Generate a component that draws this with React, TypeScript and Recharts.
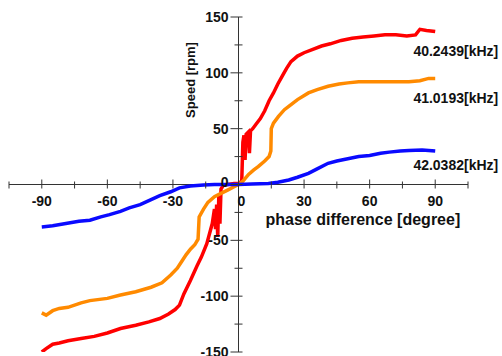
import React from 'react';
import { LineChart, Line, XAxis, YAxis, ReferenceLine, ReferenceDot } from 'recharts';

// phase difference [degree] / speed [rpm] pairs
const redPhase = [-90, -88, -85, -82, -78, -72, -66, -60, -54, -47, -41, -36, -32, -29, -27, -25, -22, -19, -17, -14.5, -12, -11, -10.5, -10, -9.5, -9, -8.5, -8, -7, -5, -2, 0, 1, 1.5, 2, 2.5, 3, 3.5, 4.5, 5, 5.5, 6.5, 8, 10, 12, 14, 16, 18, 20, 22, 24, 27, 30, 34, 38, 42, 47, 52, 57, 62, 67, 72, 77, 81, 83, 86, 90];
const redSpeed = [-150, -147, -143, -142, -140, -138, -136, -133, -129, -126, -123, -120, -116, -112, -108, -98, -86, -73, -65, -53, -35, -22, -40, -18, -47, -10, -35, -4, -1, 0, 1, 1, 2, 4, 38, 44, 22, 45, 47, 28, 48, 50, 54, 59, 66, 75, 82, 90, 97, 104, 110, 115, 118, 121, 124, 126, 129, 131, 132, 133, 134, 134, 133, 134, 139, 138, 137];

const orangePhase = [-90, -88, -85, -82, -78, -72, -68, -60, -54, -47, -40, -35, -31, -28, -26, -24, -22, -20, -18.5, -18, -16, -14, -11, -8, -5, -2, 0, 2, 4.6, 7, 9, 12, 14, 14.8, 15, 16, 18.3, 21, 23, 27, 32, 36, 41, 46, 50, 55, 60, 66, 72, 78, 83, 87, 90];
const orangeSpeed = [-115, -117, -113, -111, -110, -106, -104, -102, -99, -96, -92, -88, -81, -75, -69, -63, -58, -54, -49, -29, -22, -16, -11, -8, -5, -2, 0, 3, 9, 13, 16, 21, 25, 30, 50, 55, 61, 67, 70, 76, 82, 85, 88, 90, 91, 92, 92, 92, 92, 92, 93, 95, 95];

const bluePhase = [-90, -85, -79, -73, -68, -63, -59, -54, -50, -45, -40.5, -36, -31, -27, -22, -16, -11, -5, 0, 6, 13.7, 18, 23, 27, 32, 36, 41, 45, 50, 55, 60, 65, 69, 74, 78, 84, 90];
const blueSpeed = [-38, -37, -35, -33, -32, -29, -27, -24, -21, -18, -14, -10, -6.5, -3, -1.3, -0.5, 0, 0, 0, 0.5, 1, 2, 4, 6.5, 10, 14, 19, 21, 23, 25, 26, 28, 29, 30, 30.5, 31, 30];

const seriesNames = ['40.2439[kHz]', '41.0193[kHz]', '42.0382[kHz]'];

const xMajorTicks = [-90, -60, -30, 0, 30, 60, 90];
const xMinorTicks = [-105, -75, -45, -15, 15, 45, 75, 105];
const yMajorTicks = [150, 100, 50, 0, -50, -100, -150];
const yMinorTicks = [125, 75, 25, -25, -75, -125];

const toRows = (xs: number[], ys: number[]) => xs.map((x, i) => ({ x, y: ys[i] }));

const font = "'Liberation Sans', Arial, sans-serif";
const ink = '#111';

const series = [
  { name: seriesNames[0], data: toRows(redPhase, redSpeed), color: '#ff0000', dy: 19 },
  { name: seriesNames[1], data: toRows(orangePhase, orangeSpeed), color: '#ff8a00', dy: 20 },
  { name: seriesNames[2], data: toRows(bluePhase, blueSpeed), color: '#0a0aff', dy: 14 },
];

const xTick = (v: number, major: boolean) => (p: any) => (
  <g>
    <line x1={p.cx} x2={p.cx} y1={p.cy - (major ? 5 : 3)} y2={p.cy + 4} stroke="#333" strokeWidth={1} />
    {major && (
      <text x={v === 0 ? p.cx + 3 : p.cx} y={p.cy + 21} textAnchor="middle" fontSize={14} fontWeight="bold" fontFamily={font} fill={ink}>
        {v}
      </text>
    )}
  </g>
);

const yTick = (v: number, major: boolean) => (p: any) => (
  <g>
    <line x1={p.cx - (major ? 8 : 4)} x2={p.cx + 4} y1={p.cy} y2={p.cy} stroke="#333" strokeWidth={1} />
    {major && (
      <text x={p.cx - 10} y={v === 0 ? p.cy - 3 : p.cy} textAnchor="end" dominantBaseline="central" fontSize={14} fontWeight="bold" fontFamily={font} fill={ink}>
        {v}
      </text>
    )}
  </g>
);

const endLabel = (name: string, last: number, dy: number) => (p: any) => {
  if (p.index !== last) return null;
  return (
    <text x={p.x + 63} y={p.y + dy} textAnchor="end" dominantBaseline="central" fontSize={14} fontWeight="bold" fontFamily={font} fill={ink}>
      {name}
    </text>
  );
};

const App = () => {
  return (
    <div style={{ position: 'absolute', left: 0, top: 0, width: 502, height: 356, background: '#fff' }}>
      <LineChart width={502} height={356} margin={{ top: 17, right: 34, bottom: 4, left: 9 }}>
        <XAxis type="number" dataKey="x" domain={[-105, 105]} hide allowDataOverflow />
        <YAxis type="number" dataKey="y" domain={[-150, 150]} hide allowDataOverflow />
        <ReferenceLine
          y={0}
          stroke="#333"
          strokeWidth={1}
          label={(p: any) => (
            <text x={p.viewBox.x + p.viewBox.width / 2 + 27} y={p.viewBox.y + 40} fontSize={16} fontWeight="bold" fontFamily={font} fill={ink}>
              phase difference [degree]
            </text>
          )}
        />
        <ReferenceLine
          x={0}
          stroke="#333"
          strokeWidth={1}
          label={(p: any) => (
            <text
              x={p.viewBox.x - 48}
              y={p.viewBox.y + 63}
              transform={`rotate(-90 ${p.viewBox.x - 48} ${p.viewBox.y + 63})`}
              textAnchor="middle"
              dominantBaseline="central"
              fontSize={13}
              fontWeight="bold"
              fontFamily={font}
              fill={ink}
            >
              Speed [rpm]
            </text>
          )}
        />
        {xMajorTicks.map((v) => (
          <ReferenceDot key={'xM' + v} x={v} y={0} r={0} shape={xTick(v, true)} />
        ))}
        {xMinorTicks.map((v) => (
          <ReferenceDot key={'xm' + v} x={v} y={0} r={0} shape={xTick(v, false)} />
        ))}
        {yMajorTicks.map((v) => (
          <ReferenceDot key={'yM' + v} x={0} y={v} r={0} shape={yTick(v, true)} />
        ))}
        {yMinorTicks.map((v) => (
          <ReferenceDot key={'ym' + v} x={0} y={v} r={0} shape={yTick(v, false)} />
        ))}
        {series.map((s) => (
          <Line
            key={s.name}
            data={s.data}
            dataKey="y"
            type="linear"
            stroke={s.color}
            strokeWidth={3.5}
            dot={false}
            activeDot={false}
            isAnimationActive={false}
            label={endLabel(s.name, s.data.length - 1, s.dy)}
          />
        ))}
      </LineChart>
    </div>
  );
};

export default App;
